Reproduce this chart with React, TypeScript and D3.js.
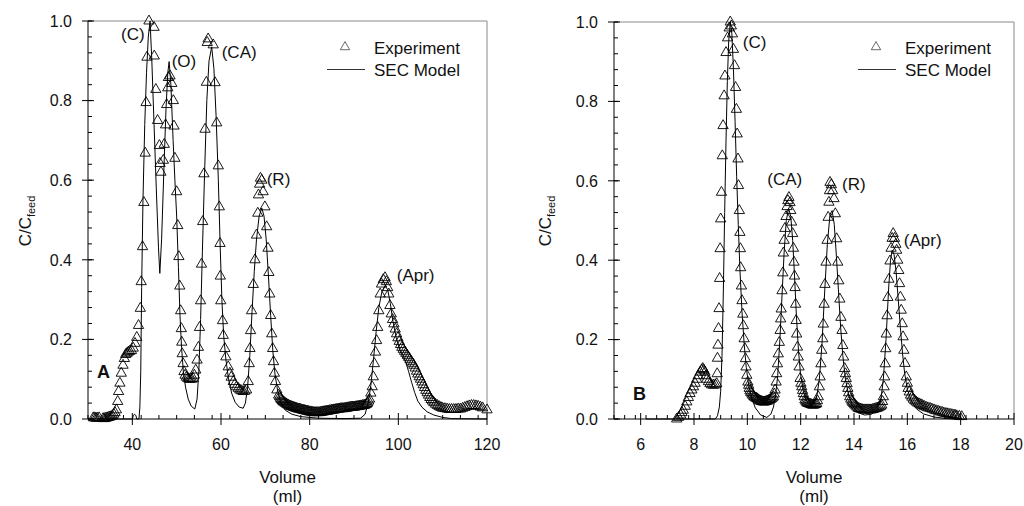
import React from 'react';
import * as d3 from 'd3';

type P = [number, number];

// Panel A experiment (Volume ml, C/Cfeed)
const expA: P[] = [
  [31.2,0.003],[31.5,0.003],[31.8,0.002],[32.1,0.002],[32.5,0.003],[33.4,0.001],[33.7,0.001],[34.0,0.002],[34.3,0.003],[34.6,0.004],[34.9,0.005],[35.2,0.006],[35.5,0.008],[35.8,0.012],[36.1,0.016],
  [36.4,0.023],[36.7,0.044],[36.9,0.069],[37.2,0.09],[37.5,0.115],[37.9,0.135],[38.2,0.152],[38.5,0.162],[38.8,0.165],[39.1,0.168],[39.4,0.17],[39.8,0.172],[40.2,0.178],[40.6,0.19],[41.0,0.205],[41.4,0.235],
  [41.8,0.278],[42.0,0.345],[42.3,0.433],[42.6,0.544],[42.9,0.668],[43.1,0.795],[43.3,0.909],[43.75,1.0],[44.9,0.984],[44.95,0.912],[45.3,0.828],[45.7,0.75],[46.1,0.687],[46.25,0.642],[46.45,0.62],
  [47.0,0.65],[47.2,0.69],[47.5,0.739],[47.75,0.79],[48.0,0.832],[48.15,0.858],[48.5,0.862],[48.9,0.843],[49.25,0.8],[49.4,0.736],[49.6,0.655],[50.0,0.571],[50.25,0.486],[50.5,0.408],
  [50.7,0.334],[50.9,0.272],[51.05,0.227],[51.15,0.193],[51.25,0.164],[51.45,0.139],[51.65,0.119],[51.9,0.11],[52.2,0.105],[52.5,0.102],[52.8,0.1],[53.1,0.1],[53.4,0.1],[53.7,0.102],[54.0,0.11],
  [54.3,0.123],[54.6,0.148],[54.9,0.18],[55.15,0.23],[55.4,0.297],[55.6,0.389],[55.87,0.496],[56.15,0.616],[56.4,0.728],[56.7,0.846],[56.9,0.946],[57.1,0.955],[58.25,0.94],[58.65,0.845],[59.03,0.744],
  [59.39,0.636],[59.62,0.533],[59.78,0.441],[59.85,0.359],[59.95,0.297],[60.35,0.247],[60.5,0.21],[60.87,0.177],[61.1,0.156],[61.63,0.131],[62.0,0.115],[62.3,0.105],[62.76,0.094],[63.1,0.087],[63.5,0.081],
  [63.9,0.077],[64.26,0.073],[64.6,0.071],[65.0,0.069],[65.4,0.07],[65.77,0.073],[66.15,0.094],[66.37,0.139],[66.53,0.177],[66.68,0.222],[66.9,0.272],[67.28,0.338],[67.66,0.4],[68.0,0.462],[68.3,0.517],
  [68.45,0.563],[68.7,0.59],[68.9,0.605],[69.2,0.6],[69.5,0.571],[69.9,0.533],[70.3,0.483],[70.6,0.429],[70.8,0.368],[71.0,0.314],[71.2,0.26],[71.45,0.214],[71.65,0.177],[71.85,0.144],[72.05,0.115],
  [72.3,0.094],[72.6,0.073],[73.0,0.06],[73.2,0.056],[73.4,0.052],[73.6,0.049],[73.8,0.046],[74.0,0.044],[74.2,0.042],[74.45,0.04],[74.7,0.038],[74.95,0.036],[75.2,0.035],[75.45,0.033],[75.7,0.032],
  [75.95,0.031],[76.2,0.03],[76.45,0.029],[76.7,0.028],[76.95,0.027],[77.2,0.026],[77.45,0.025],[77.7,0.025],[77.95,0.024],[78.2,0.023],[78.45,0.022],[78.7,0.022],[78.95,0.021],
  [79.2,0.02],[79.45,0.02],[79.7,0.019],[79.95,0.018],[80.2,0.018],[80.45,0.017],[80.7,0.017],[80.95,0.016],[81.2,0.016],[81.45,0.016],[81.7,0.016],[81.95,0.016],[82.2,0.016],[82.45,0.017],[82.7,0.017],
  [82.95,0.018],[83.2,0.018],[83.45,0.019],[83.7,0.019],[83.95,0.02],[84.2,0.02],[84.45,0.021],[84.7,0.021],[84.95,0.022],[85.2,0.022],[85.45,0.023],[85.7,0.023],[85.95,0.024],[86.2,0.024],
  [86.45,0.025],[86.7,0.025],[86.95,0.026],[87.2,0.026],[87.45,0.026],[87.7,0.026],[87.95,0.027],[88.2,0.027],[88.45,0.028],[88.7,0.028],[88.95,0.029],[89.2,0.029],[89.45,0.03],[89.7,0.03],
  [89.95,0.03],[90.2,0.03],[90.45,0.031],[90.7,0.031],[90.95,0.032],[91.2,0.032],[91.45,0.033],[91.7,0.033],[91.95,0.034],[92.2,0.034],[92.45,0.035],[92.7,0.036],[92.9,0.038],[93.1,0.04],[93.3,0.045],[93.5,0.05],
  [93.8,0.065],[94.1,0.081],[94.35,0.106],[94.6,0.139],[94.85,0.168],[95.1,0.197],[95.35,0.23],[95.6,0.272],[95.9,0.314],[96.2,0.339],[96.6,0.35],[97.0,0.355],[97.3,0.345],[97.6,0.33],[97.85,0.314],
  [98.1,0.285],[98.4,0.264],[98.7,0.25],[99.0,0.239],[99.3,0.226],[99.6,0.214],[99.9,0.204],[100.2,0.195],[100.5,0.187],[100.8,0.18],[101.1,0.175],[101.4,0.17],[101.7,0.165],[102.0,0.16],[102.3,0.155],
  [102.6,0.15],[102.9,0.145],[103.2,0.14],[103.5,0.135],[103.8,0.128],[104.1,0.12],[104.4,0.113],[104.7,0.106],[105.0,0.1],[105.3,0.093],[105.6,0.086],[105.9,0.079],[106.2,0.072],[106.5,0.066],[106.8,0.06],
  [107.1,0.054],[107.4,0.049],[107.7,0.045],[108.0,0.041],[108.4,0.037],[108.8,0.034],[109.2,0.031],[109.6,0.029],[110.0,0.027],[110.5,0.026],[111.0,0.025],[111.5,0.024],[112.0,0.024],[112.5,0.024],
  [113.0,0.024],[113.5,0.025],[114.0,0.025],[114.5,0.027],[115.0,0.029],[115.5,0.031],[116.0,0.033],[116.5,0.034],[117.0,0.034],[117.5,0.033],[118.0,0.032],[118.5,0.03],[119.0,0.028],[120.0,0.023],
];

// Panel A SEC model
const modelA: P[] = [
  [30,0],[40.0,0],[40.2,0.008],[40.5,0.012],[40.8,0.009],[41.0,0],[41.5,0],[41.7,0.03],[41.9,0.12],[42.1,0.33],[42.4,0.55],[42.8,0.74],[43.2,0.87],[43.6,0.96],[44.0,1.0],[44.4,0.9],[44.9,0.74],
  [45.4,0.58],[45.9,0.43],[46.2,0.366],[46.6,0.45],[47.1,0.62],[47.6,0.78],[48.0,0.87],[48.3,0.898],[48.7,0.84],[49.2,0.7],[49.6,0.6],[50.0,0.51],[50.4,0.38],[50.75,0.26],[51.1,0.18],[51.5,0.12],
  [52.0,0.08],[52.6,0.05],[53.3,0.032],[54.1,0.025],[54.6,0.05],[55.0,0.12],[55.4,0.25],[55.8,0.42],[56.3,0.62],[56.8,0.8],[57.3,0.9],[57.9,0.935],[58.4,0.88],[58.9,0.76],[59.4,0.6],[59.8,0.44],
  [60.2,0.3],[60.6,0.21],[61.1,0.15],[61.7,0.1],[62.4,0.065],[63.2,0.042],[64.1,0.03],[65.0,0.027],[65.5,0.04],[66.0,0.08],[66.5,0.16],[67.0,0.27],[67.5,0.37],[68.0,0.45],[68.6,0.51],[69.2,0.53],
  [69.7,0.51],[70.2,0.45],[70.7,0.36],[71.2,0.26],[71.7,0.17],[72.2,0.11],[72.8,0.07],[73.5,0.04],[74.5,0.022],[76,0.012],[78,0.006],[82,0.002],[88,0.001],[91.5,0.002],[92.5,0.012],[93.2,0.04],
  [93.8,0.085],[94.4,0.15],[95.0,0.22],[95.6,0.28],[96.3,0.32],[97.0,0.335],[97.6,0.325],[98.2,0.29],[98.8,0.245],[99.5,0.205],[100.3,0.175],[101.0,0.16],[101.6,0.145],[102.3,0.12],[103.0,0.092],
  [103.7,0.066],[104.4,0.045],[105.3,0.03],[106.5,0.018],[108,0.01],[110,0.004],[112,0.001],[120,0],
];

// Panel B experiment
const expB: P[] = [
  [7.35,0.0],[7.42,0.004],[7.5,0.01],[7.55,0.016],[7.6,0.022],[7.67,0.032],[7.73,0.043],[7.79,0.054],[7.85,0.064],[7.92,0.073],[7.98,0.081],[8.04,0.09],[8.1,0.1],[8.16,0.109],[8.23,0.118],[8.29,0.124],
  [8.33,0.127],[8.37,0.123],[8.41,0.118],[8.45,0.109],[8.48,0.1],[8.54,0.094],[8.6,0.089],[8.66,0.086],[8.73,0.085],[8.8,0.086],[8.85,0.089],[8.87,0.114],[8.88,0.153],[8.9,0.186],[8.92,0.228],
  [8.94,0.278],[8.96,0.354],[8.98,0.429],[9.0,0.504],[9.03,0.571],[9.06,0.663],[9.09,0.739],[9.13,0.814],[9.16,0.864],[9.2,0.923],[9.26,0.96],[9.32,0.985],[9.36,1.0],[9.4,0.99],[9.44,0.97],[9.48,0.931],
  [9.52,0.89],[9.56,0.835],[9.59,0.78],[9.62,0.718],[9.65,0.655],[9.67,0.588],[9.7,0.525],[9.72,0.47],[9.74,0.429],[9.75,0.381],[9.78,0.335],[9.8,0.298],[9.83,0.264],[9.85,0.235],[9.88,0.202],
  [9.91,0.177],[9.93,0.152],[9.95,0.131],[9.98,0.11],[10.02,0.093],[10.05,0.085],[10.07,0.077],[10.1,0.071],[10.13,0.067],[10.17,0.063],[10.2,0.06],[10.24,0.057],[10.27,0.055],[10.31,0.053],[10.35,0.052],
  [10.39,0.05],[10.42,0.048],[10.46,0.046],[10.5,0.045],[10.54,0.044],[10.58,0.043],[10.62,0.043],[10.66,0.043],[10.7,0.044],[10.74,0.045],[10.78,0.046],[10.82,0.048],[10.86,0.049],[10.9,0.051],[10.94,0.053],
  [10.98,0.056],[11.01,0.063],[11.04,0.073],[11.08,0.093],[11.1,0.114],[11.13,0.139],[11.16,0.164],[11.2,0.193],[11.23,0.223],[11.25,0.252],[11.27,0.277],[11.3,0.323],
  [11.33,0.368],[11.35,0.418],[11.38,0.45],[11.41,0.48],[11.45,0.51],[11.49,0.535],[11.52,0.55],[11.56,0.558],[11.6,0.545],[11.63,0.525],[11.66,0.496],[11.7,0.467],[11.73,0.43],[11.75,0.395],
  [11.77,0.36],[11.79,0.331],[11.81,0.289],[11.83,0.248],[11.85,0.214],[11.88,0.181],[11.91,0.156],[11.94,0.131],[11.98,0.102],[12.01,0.09],[12.04,0.081],[12.07,0.072],[12.1,0.064],[12.13,0.056],[12.16,0.048],
  [12.19,0.045],[12.22,0.042],[12.25,0.04],[12.29,0.039],[12.33,0.038],[12.37,0.037],[12.41,0.036],[12.45,0.035],[12.49,0.035],[12.53,0.036],[12.57,0.037],[12.6,0.039],[12.63,0.046],[12.66,0.056],
  [12.7,0.081],[12.73,0.106],[12.76,0.139],[12.79,0.173],[12.83,0.202],[12.85,0.239],[12.88,0.289],[12.91,0.339],[12.95,0.395],
  [12.99,0.45],[13.03,0.508],[13.06,0.546],[13.08,0.575],[13.1,0.596],[13.15,0.59],[13.2,0.575],[13.25,0.555],[13.3,0.517],[13.35,0.454],[13.39,0.395],[13.43,0.348],[13.47,0.302],[13.51,0.256],
  [13.55,0.223],[13.58,0.185],[13.61,0.156],[13.65,0.127],[13.68,0.114],[13.71,0.102],[13.74,0.089],[13.77,0.077],[13.8,0.066],[13.84,0.056],[13.88,0.05],[13.92,0.045],[13.95,0.042],[13.99,0.039],
  [14.03,0.036],[14.07,0.033],[14.11,0.03],[14.16,0.027],[14.2,0.026],[14.25,0.025],[14.3,0.024],[14.35,0.023],[14.4,0.023],[14.45,0.023],[14.5,0.023],[14.55,0.023],[14.6,0.023],[14.65,0.023],
  [14.7,0.024],[14.75,0.025],[14.8,0.026],[14.85,0.027],[14.9,0.028],[14.95,0.03],[15.0,0.032],[15.04,0.035],[15.07,0.044],[15.1,0.056],[15.13,0.081],[15.15,0.106],[15.17,0.139],[15.19,0.177],
  [15.21,0.214],[15.24,0.26],[15.27,0.306],[15.31,0.352],[15.35,0.398],[15.39,0.43],[15.43,0.455],[15.47,0.467],[15.52,0.455],[15.57,0.44],[15.6,0.425],[15.64,0.4],[15.68,0.374],[15.71,0.341],
  [15.74,0.307],[15.77,0.274],[15.81,0.24],[15.84,0.207],[15.87,0.173],[15.91,0.14],[15.96,0.106],[16.0,0.09],[16.03,0.077],[16.07,0.068],[16.12,0.06],[16.17,0.055],[16.22,0.05],[16.28,0.046],
  [16.33,0.043],[16.39,0.04],[16.45,0.038],[16.51,0.036],[16.57,0.034],[16.63,0.032],[16.7,0.03],[16.77,0.028],[16.85,0.027],[16.92,0.025],[17.0,0.023],[17.07,0.021],[17.15,0.02],[17.22,0.018],
  [17.3,0.017],[17.37,0.015],[17.45,0.014],[17.52,0.013],[17.6,0.012],[17.67,0.011],[17.75,0.01],[17.8,0.009],[17.85,0.008],[17.95,0.007],[18.04,0.006],
];

// Panel B SEC model
const modelB: P[] = [
  [6.2,0],[8.8,0],[8.88,0.008],[8.95,0.03],[9.0,0.07],[9.05,0.16],[9.1,0.32],[9.15,0.52],[9.2,0.7],[9.25,0.85],[9.3,0.95],[9.36,1.0],[9.42,0.97],[9.48,0.88],[9.54,0.75],[9.6,0.61],[9.66,0.49],
  [9.72,0.38],[9.8,0.27],[9.88,0.19],[9.96,0.13],[10.05,0.085],[10.15,0.055],[10.3,0.028],[10.5,0.01],[10.73,0.004],[10.88,0.012],[10.98,0.03],[11.06,0.06],[11.14,0.11],[11.22,0.2],[11.3,0.31],
  [11.38,0.42],[11.46,0.5],[11.55,0.53],[11.63,0.51],[11.7,0.45],[11.77,0.36],[11.84,0.26],[11.92,0.17],[12.0,0.11],[12.1,0.07],[12.2,0.048],[12.35,0.035],[12.5,0.038],[12.6,0.055],[12.7,0.1],
  [12.8,0.19],[12.9,0.32],[13.0,0.44],[13.1,0.515],[13.18,0.525],[13.26,0.49],[13.34,0.41],[13.42,0.32],[13.5,0.23],[13.58,0.16],[13.68,0.1],[13.8,0.06],[13.95,0.032],[14.15,0.016],[14.4,0.01],
  [14.65,0.012],[14.85,0.022],[15.0,0.045],[15.1,0.1],[15.2,0.2],[15.3,0.33],[15.37,0.4],[15.43,0.425],[15.5,0.415],[15.58,0.37],[15.66,0.3],[15.74,0.23],[15.82,0.165],[15.9,0.115],[16.0,0.075],
  [16.15,0.045],[16.35,0.025],[16.6,0.013],[17.0,0.005],[17.5,0.001],[18,0],
];

const yTickValues = [0, 0.2, 0.4, 0.6, 0.8, 1.0];
const xTicksA = [40, 60, 80, 100, 120];
const xTicksB = [6, 8, 10, 12, 14, 16, 18, 20];

type Note = [string, number, number];
const notesA: Note[] = [['(C)', 37.44, 0.952], ['(O)', 48.88, 0.885], ['(CA)', 60.16, 0.907], ['(R)', 70.31, 0.588], ['(Apr)', 99.64, 0.347]];
const notesB: Note[] = [['(C)', 9.83, 0.934], ['(CA)', 10.75, 0.589], ['(R)', 13.55, 0.577], ['(Apr)', 15.87, 0.436]];

const FONT = '"Liberation Sans", Arial, Helvetica, sans-serif';
const tri = d3.symbol().type(d3.symbolTriangle).size(46)() as string;
const triLegend = d3.symbol().type(d3.symbolTriangle).size(38)() as string;

interface PanelProps {
  exp: P[]; model: P[]; xDomain: [number, number]; xRange: [number, number]; yTop: number;
  xTicks: number[]; xMinorStep: number; notes: Note[]; letter: string; letterPos: [number, number];
  ylabX: number; legendX: number;
}

function Panel(p: PanelProps) {
  const x = d3.scaleLinear().domain(p.xDomain).range(p.xRange);
  const y = d3.scaleLinear().domain([0, 1]).range([419, p.yTop]);
  const [x0, x1] = p.xRange;
  const y0 = 419, y1 = p.yTop;
  const line = d3.line<P>().x(d => x(d[0])).y(d => y(d[1]));
  const xMinor = d3.range(p.xDomain[0], p.xDomain[1] + 1e-9, p.xMinorStep);
  const yMinor = d3.range(0, 1.0001, 0.04);
  const cx = (x0 + x1) / 2;
  return (
    <g fontFamily={FONT}>
      <line x1={x0} x2={x1} y1={y1} y2={y1} stroke="#8a8a8a" strokeWidth={1} />
      <line x1={x1} x2={x1} y1={y1} y2={y0} stroke="#8a8a8a" strokeWidth={1} />
      {yMinor.map((v, i) => <line key={'ym' + i} x1={x0} x2={x0 + 4} y1={y(v)} y2={y(v)} stroke="#000" strokeWidth={1} />)}
      {xMinor.map((v, i) => <line key={'xm' + i} x1={x(v)} x2={x(v)} y1={y0} y2={y0 - 4} stroke="#000" strokeWidth={1} />)}
      {yTickValues.map(v => (
        <g key={'y' + v}>
          <line x1={x0 - 6} x2={x0 + 6} y1={y(v)} y2={y(v)} stroke="#000" strokeWidth={1} />
          <text x={x0 - 16} y={y(v)} dy="0.36em" textAnchor="end" fontSize={16} fill="#111">{v.toFixed(1)}</text>
        </g>
      ))}
      {p.xTicks.map(v => (
        <g key={'x' + v}>
          <line x1={x(v)} x2={x(v)} y1={y0 - 6} y2={y0 + 6} stroke="#000" strokeWidth={1} />
          <text x={x(v)} y={450} textAnchor="middle" fontSize={16} fill="#111">{v}</text>
        </g>
      ))}
      <line x1={x0} x2={x0} y1={y1} y2={y0} stroke="#000" strokeWidth={1} />
      <line x1={x0} x2={x1} y1={y0} y2={y0} stroke="#000" strokeWidth={1} />
      {p.exp.map((d, i) => (
        <path key={'e' + i} d={tri} transform={`translate(${x(d[0])},${y(d[1])})`} fill="none" stroke="#000" strokeWidth={0.9} />
      ))}
      <path d={line(p.model) as string} fill="none" stroke="#000" strokeWidth={1} />
      {p.notes.map(n => (
        <text key={n[0]} x={x(n[1])} y={y(n[2])} fontSize={17} fill="#111">{n[0]}</text>
      ))}
      <text x={p.letterPos[0]} y={p.letterPos[1]} fontSize={18} fontWeight="bold" fill="#111">{p.letter}</text>
      <path d={triLegend} transform={`translate(${p.legendX - 29},47)`} fill="none" stroke="#444" strokeWidth={0.8} />
      <text x={p.legendX} y={54} fontSize={17} fill="#111">Experiment</text>
      <line x1={p.legendX - 47} x2={p.legendX - 9} y1={69.5} y2={69.5} stroke="#333" strokeWidth={1} />
      <text x={p.legendX} y={76} fontSize={17} fill="#111">SEC Model</text>
      <text x={cx} y={483} textAnchor="middle" fontSize={17} fill="#111">Volume</text>
      <text x={cx} y={502} textAnchor="middle" fontSize={17} fill="#111">(ml)</text>
      <text transform={`translate(${p.ylabX},221) rotate(-90)`} textAnchor="middle" fontSize={17} fill="#111">
        C/C<tspan fontSize={11} dy={4}>feed</tspan>
      </text>
    </g>
  );
}

export default function App() {
  return (
    <svg width={1024} height={506} style={{ position: 'absolute', left: 0, top: 0, background: '#fff' }}>
      <rect width={1024} height={506} fill="#fff" />
      <Panel exp={expA} model={modelA} xDomain={[30, 120]} xRange={[88, 487]} yTop={21}
        xTicks={xTicksA} xMinorStep={4} notes={notesA} letter="A" letterPos={[97, 378]} ylabX={31} legendX={374} />
      <Panel exp={expB} model={modelB} xDomain={[5, 20]} xRange={[614, 1014]} yTop={22}
        xTicks={xTicksB} xMinorStep={0.4} notes={notesB} letter="B" letterPos={[633, 400]} ylabX={551} legendX={905} />
    </svg>
  );
}
